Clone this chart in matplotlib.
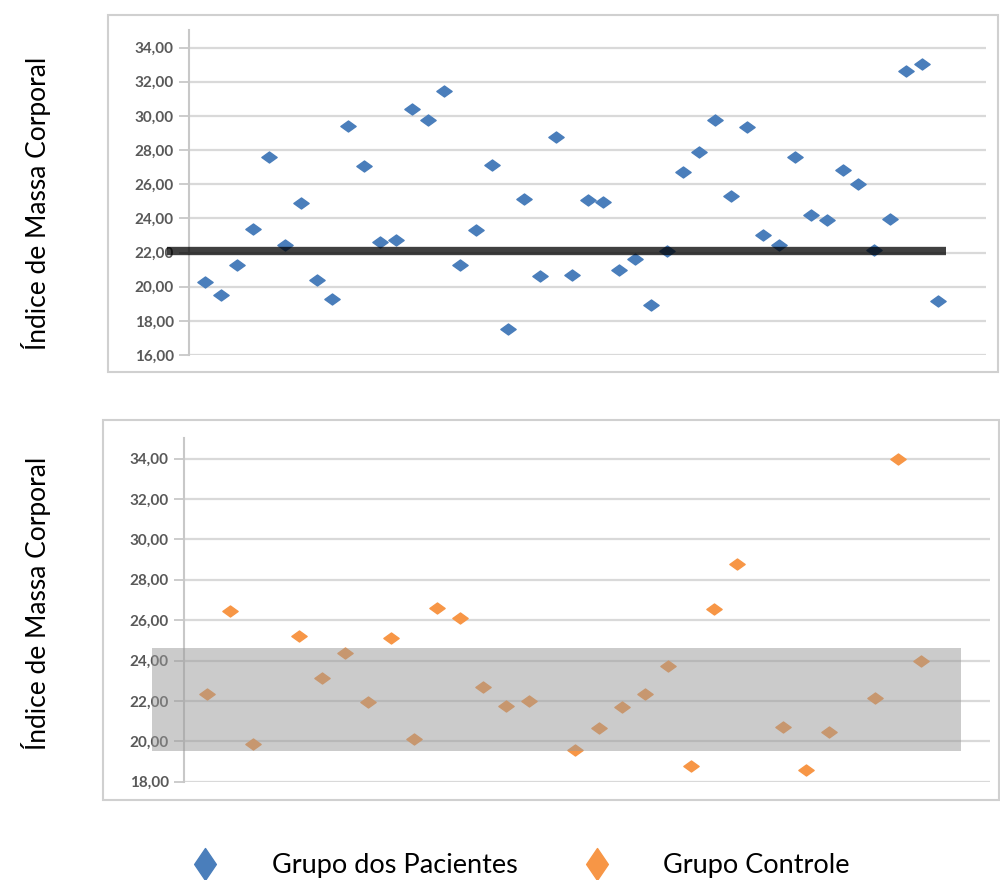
import numpy as np
import matplotlib
matplotlib.use("Agg")
import matplotlib.pyplot as plt
from matplotlib.path import Path
from matplotlib.patches import Rectangle

# IMC por indivíduo, grupo dos pacientes (47 pacientes)
imc_pacientes = [20.3, 19.5, 21.25, 23.4, 27.6, 22.45, 24.9, 20.4, 19.3, 29.4,
                 27.05, 22.6, 22.75, 30.4, 29.75, 31.45, 21.25, 23.3, 27.15, 17.55,
                 25.15, 20.65, 28.75, 20.7, 25.05, 24.95, 21.0, 21.6, 18.9, 22.1,
                 26.7, 27.9, 29.75, 25.3, 29.35, 23.05, 22.45, 27.6, 24.2, 23.9,
                 26.85, 26.0, 22.15, 23.95, 32.6, 33.05, 19.15]

# IMC por indivíduo, grupo controle (posições sem valor ficam em branco)
imc_controle = [22.35, 26.45, 19.85, np.nan, 25.2, 23.15, 24.35, 21.95, 25.1, 20.1,
                26.6, 26.1, 22.7, 21.75, 22.0, np.nan, 19.55, 20.65, 21.7, 22.35,
                23.75, 18.8, 26.55, 28.8, np.nan, 20.7, 18.6, 20.45, np.nan, 22.15,
                34.0, 24.0]

linha_media = 22.1          # linha de referência dos pacientes
faixa_controle = (19.5, 24.6)  # faixa sombreada do grupo controle

rotulo_y = "Índice de Massa Corporal"
legenda = ["Grupo dos Pacientes", "Grupo Controle"]

azul = "#4a7ebb"
laranja = "#f79646"
cinza_grade = "#d9d9d9"
cinza_texto = "#595959"

# losango achatado, como nos gráficos do Excel
losango = Path([(-1, 0), (0, 0.72), (1, 0), (0, -0.72), (-1, 0)],
               [Path.MOVETO, Path.LINETO, Path.LINETO, Path.LINETO, Path.CLOSEPOLY])
losango_alto = Path([(-0.68, 0), (0, 1), (0.68, 0), (0, -1), (-0.68, 0)],
                    [Path.MOVETO, Path.LINETO, Path.LINETO, Path.LINETO, Path.CLOSEPOLY])

plt.rcParams["font.family"] = ["Lato", "DejaVu Sans"]

fig = plt.figure(figsize=(10, 8.8), dpi=100)
W, H = 1000, 880


def px_box(x0, y0, x1, y1):
    return [x0 / W, 1 - y1 / H, (x1 - x0) / W, (y1 - y0) / H]


def estilo(ax, ymin, ymax):
    ax.set_ylim(ymin, ymax)
    ax.set_yticks(np.arange(ymin, 35, 2))
    ax.set_yticklabels([f"{v:.2f}".replace(".", ",") for v in np.arange(ymin, 35, 2)])
    ax.grid(axis="y", color=cinza_grade, linewidth=1.6, zorder=0)
    ax.set_xticks([])
    for s in ["top", "right", "bottom"]:
        ax.spines[s].set_visible(False)
    ax.spines["left"].set_color("#c8c8c8")
    ax.spines["left"].set_linewidth(1.5)
    ax.tick_params(axis="y", length=7, width=1.3, color="#c8c8c8",
                   labelsize=11, labelcolor=cinza_texto, pad=4)
    for t in ax.get_yticklabels():
        t.set_fontweight("bold")
    ax.set_axisbelow(True)


# molduras dos dois gráficos
fig.patches.append(Rectangle((108 / W, 1 - 372 / H), 890 / W, 357 / H,
                             transform=fig.transFigure, fill=False,
                             edgecolor="#d0d0d0", linewidth=1.5))
fig.patches.append(Rectangle((103 / W, 1 - 800 / H), 896 / W, 380 / H,
                             transform=fig.transFigure, fill=False,
                             edgecolor="#d0d0d0", linewidth=1.5))

# gráfico superior: pacientes
ax1 = fig.add_axes(px_box(189, 30.5, 986, 355))
x1 = np.arange(1, len(imc_pacientes) + 1)
ax1.set_xlim(0, 50)
estilo(ax1, 16, 35)
ax1.plot(x1, imc_pacientes, linestyle="none", marker=losango, markersize=11,
         color=azul, zorder=3)
ax1.plot([-1.4, 47.5], [linha_media, linha_media], color="black", alpha=0.75,
         linewidth=6, solid_capstyle="butt", clip_on=False, zorder=4)

# gráfico inferior: controle
ax2 = fig.add_axes(px_box(184, 438.3, 990, 781.7))
x2 = np.arange(1, len(imc_controle) + 1)
ax2.set_xlim(0, 35)
estilo(ax2, 18, 35)
ax2.plot(x2, imc_controle, linestyle="none", marker=losango, markersize=11,
         color=laranja, zorder=3)
ax2.add_patch(Rectangle((-1.39, faixa_controle[0]), 35.13,
                        faixa_controle[1] - faixa_controle[0],
                        facecolor="#999999", alpha=0.5, edgecolor="none",
                        clip_on=False, zorder=4))

fig.text(36 / W, 1 - 203 / H, rotulo_y, rotation=90, ha="center", va="center",
         fontsize=19, color="black")
fig.text(36 / W, 1 - 603 / H, rotulo_y, rotation=90, ha="center", va="center",
         fontsize=19, color="black")

# legenda
axl = fig.add_axes([0, 0, 1, 1], facecolor="none")
axl.set_xlim(0, W)
axl.set_ylim(H, 0)
axl.axis("off")
axl.plot([205], [864], marker=losango_alto, markersize=23, color=azul,
         linestyle="none", clip_on=False)
axl.plot([597], [864], marker=losango_alto, markersize=23, color=laranja,
         linestyle="none", clip_on=False)
axl.text(272, 866, legenda[0], fontsize=19.5, va="center", ha="left")
axl.text(663, 866, legenda[1], fontsize=19.5, va="center", ha="left")

fig.savefig("out.png", dpi=100)
